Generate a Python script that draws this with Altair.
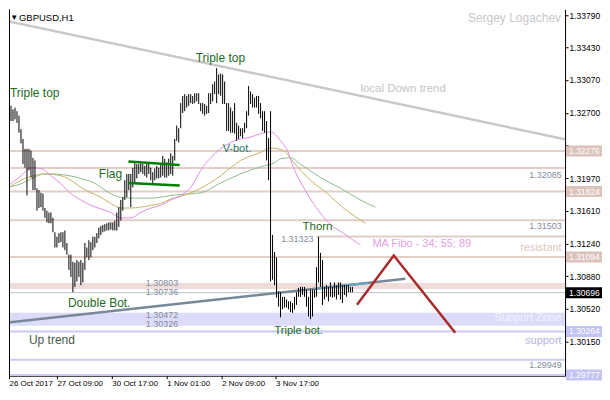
import altair as alt
import pandas as pd

# ---------------- bar data (high / low of each H1 bar) ----------------
highs_a = [1.3269, 1.3276, 1.3278, 1.3280, 1.3278, 1.3274, 1.3276, 1.3272, 1.3267, 1.3252,
           1.3241, 1.3230, 1.3230, 1.3230, 1.3228, 1.3220, 1.3217, 1.3186, 1.3184, 1.3181,
           1.3180, 1.3164, 1.3161, 1.3159, 1.3159, 1.3153, 1.3137, 1.3132, 1.3136, 1.3137,
           1.3137, 1.3139, 1.3125, 1.3112, 1.3112, 1.3104, 1.3103, 1.3106, 1.3104, 1.3106,
           1.3103, 1.3125, 1.3120, 1.3128, 1.3126, 1.3132, 1.3132, 1.3136]
lows_a = [1.3258, 1.3264, 1.3267, 1.3263, 1.3261, 1.3261, 1.3263, 1.3259, 1.3248, 1.3236,
          1.3213, 1.3209, 1.3178, 1.3206, 1.3198, 1.3184, 1.3184, 1.3161, 1.3164, 1.3165,
          1.3161, 1.3153, 1.3148, 1.3147, 1.3147, 1.3137, 1.3120, 1.3120, 1.3125, 1.3126,
          1.3120, 1.3117, 1.3112, 1.3095, 1.3087, 1.3070, 1.3076, 1.3082, 1.3087, 1.3078,
          1.3081, 1.3095, 1.3109, 1.3106, 1.3109, 1.3117, 1.3120, 1.3125]
highs_b = [1.3142, 1.3144, 1.3145, 1.3146, 1.3147, 1.3148, 1.3148, 1.3148, 1.3150, 1.3159,
           1.3165, 1.3173, 1.3176, 1.3195, 1.3202, 1.3202, 1.3202, 1.3209, 1.3215, 1.3213,
           1.3213, 1.3215, 1.3213, 1.3211, 1.3213, 1.3215, 1.3209, 1.3204, 1.3208, 1.3211,
           1.3209, 1.3213, 1.3222, 1.3219, 1.3215, 1.3219, 1.3225, 1.3222, 1.3241, 1.3256,
           1.3253, 1.3281, 1.3289, 1.3291, 1.3289]
lows_b = [1.3130, 1.3134, 1.3137, 1.3138, 1.3139, 1.3139, 1.3140, 1.3139, 1.3139, 1.3139,
          1.3143, 1.3150, 1.3161, 1.3173, 1.3176, 1.3184, 1.3165, 1.3187, 1.3191, 1.3197,
          1.3202, 1.3204, 1.3202, 1.3200, 1.3198, 1.3202, 1.3195, 1.3192, 1.3195, 1.3197,
          1.3197, 1.3198, 1.3200, 1.3198, 1.3198, 1.3200, 1.3202, 1.3200, 1.3217, 1.3239,
          1.3237, 1.3253, 1.3270, 1.3272, 1.3276]
highs_c = [1.3291, 1.3291, 1.3289, 1.3292, 1.3292, 1.3292, 1.3281, 1.3281, 1.3280, 1.3278,
           1.3292, 1.3292, 1.3302, 1.3305, 1.3320, 1.3313, 1.3314, 1.3313, 1.3305, 1.3281,
           1.3281, 1.3276, 1.3272, 1.3281, 1.3259, 1.3256, 1.3253, 1.3253, 1.3259, 1.3272,
           1.3300, 1.3294, 1.3291, 1.3287, 1.3289, 1.3289, 1.3281, 1.3272, 1.3272, 1.3261,
           1.3242, 1.3272, 1.3134, 1.3115, 1.3109, 1.3071, 1.3070, 1.3065, 1.3065, 1.3062,
           1.3060, 1.3060, 1.3058, 1.3065, 1.3070, 1.3075, 1.3076, 1.3076, 1.3076, 1.3073,
           1.3065, 1.3073, 1.3073, 1.3073, 1.3098, 1.3132, 1.3114, 1.3106, 1.3076, 1.3078,
           1.3076, 1.3081, 1.3076, 1.3081, 1.3078, 1.3081, 1.3081, 1.3078, 1.3078, 1.3078,
           1.3078, 1.3076, 1.3076]
lows_c = [1.3278, 1.3281, 1.3280, 1.3281, 1.3283, 1.3280, 1.3272, 1.3269, 1.3267, 1.3269,
          1.3270, 1.3280, 1.3283, 1.3291, 1.3281, 1.3291, 1.3289, 1.3280, 1.3280, 1.3250,
          1.3250, 1.3248, 1.3248, 1.3247, 1.3239, 1.3241, 1.3244, 1.3242, 1.3248, 1.3253,
          1.3267, 1.3280, 1.3276, 1.3276, 1.3276, 1.3269, 1.3264, 1.3250, 1.3248, 1.3217,
          1.3195, 1.3082, 1.3084, 1.3078, 1.3064, 1.3054, 1.3042, 1.3051, 1.3053, 1.3053,
          1.3051, 1.3048, 1.3047, 1.3051, 1.3056, 1.3065, 1.3065, 1.3067, 1.3065, 1.3054,
          1.3043, 1.3040, 1.3043, 1.3064, 1.3065, 1.3081, 1.3076, 1.3056, 1.3062, 1.3065,
          1.3060, 1.3065, 1.3064, 1.3065, 1.3062, 1.3067, 1.3062, 1.3058, 1.3067, 1.3065,
          1.3070, 1.3070, 1.3070]
highs = highs_a + highs_b + highs_c
lows = lows_a + lows_b + lows_c

# ---------------- moving averages (Fibo 34 / 55 / 89) ----------------
ma34_i = [-1, 4, 9, 14, 19, 24, 29, 34, 39, 44, 49, 54, 59, 64, 69, 74, 79, 84, 89, 94, 99, 104,
          109, 114, 119, 124, 129, 134, 139, 142.5, 145.5, 150.5, 155.5, 160.5, 165.5, 170.5, 175.5, 179]
ma34_v = [1.3184, 1.3191, 1.3200, 1.3209, 1.3208, 1.3200, 1.3191, 1.3180, 1.3173, 1.3167, 1.3163,
          1.3159, 1.3153, 1.3153, 1.3159, 1.3164, 1.3167, 1.3173, 1.3178, 1.3187, 1.3206, 1.3220,
          1.3230, 1.3237, 1.3241, 1.3243, 1.3247, 1.3249, 1.3239, 1.3228, 1.3209, 1.3187, 1.3169,
          1.3154, 1.3143, 1.3136, 1.3128, 1.3123]
ma55_i = [-1, 9, 15.5, 20.5, 29, 34, 39, 44, 49, 54, 59, 64, 69, 74, 79, 84, 89, 99, 109, 114, 119,
          124, 129, 134, 140.5, 145.5, 154, 162.5, 170.5, 181.5]
ma55_v = [1.3180, 1.3195, 1.3200, 1.3202, 1.3200, 1.3195, 1.3187, 1.3181, 1.3176, 1.3169, 1.3164,
          1.3164, 1.3165, 1.3167, 1.3169, 1.3174, 1.3177, 1.3186, 1.3200, 1.3209, 1.3217, 1.3222,
          1.3226, 1.3231, 1.3228, 1.3215, 1.3195, 1.3180, 1.3164, 1.3147]
ma89_i = [-1, 9, 15.5, 20.5, 25.5, 30.5, 35.5, 40.5, 46.5, 49, 54, 59, 64, 74, 79, 84, 89, 99, 109,
          119, 129, 136.5, 139, 144, 149, 159, 169, 179, 186.5]
ma89_v = [1.3186, 1.3191, 1.3198, 1.3202, 1.3202, 1.3201, 1.3199, 1.3196, 1.3191, 1.3187, 1.3180,
          1.3176, 1.3175, 1.3175, 1.3176, 1.3178, 1.3179, 1.3181, 1.3192, 1.3202, 1.3210, 1.3215,
          1.3219, 1.3220, 1.3213, 1.3198, 1.3186, 1.3173, 1.3165]

# ---------------- drawn objects ----------------
down_i, down_v = [-1, 284], [1.3374, 1.32395]
up_i, up_v = [-1, 201.5], [1.30355, 1.3085]
up_hi_i, up_hi_v = [157.5, 182.5], [1.30742, 1.30804]
zig_i, zig_v = [177.3, 195.7, 226.5], [1.3056, 1.3111, 1.3025]
flag_top_i, flag_top_v = [62.8, 88.5], [1.3216, 1.3212]
flag_bot_i, flag_bot_v = [62.8, 88.5], [1.3192, 1.3189]

pink_levels = [1.32276, 1.32085, 1.31824, 1.31503, 1.31094]
thorn_level, thorn_from = 1.31323, 157
pink_band = [1.30803, 1.30736]
blue_band = [1.30472, 1.30326]
blue_levels = [1.30264, 1.29949, 1.29777]
bid = 1.30696

box_prices = [1.32276, 1.31824, 1.31094, 1.30696, 1.30264, 1.29777]
box_colors = ["#dcc2bb", "#dcc2bb", "#dcc2bb", "#000000", "#c3c3f5", "#c3c3f5"]

y_ticks = [1.33790, 1.33430, 1.33070, 1.32700, 1.32340, 1.31970, 1.31610,
           1.31240, 1.30880, 1.30520, 1.30150]
y_hidden = [1.32340]          # label sits under the 1.32276 price box
x_tick_pos = [3, 27, 54.5, 82, 109.5, 136.5]
x_tick_lbl = ["26 Oct 2017", "27 Oct 09:00", "30 Oct 17:00", "1 Nov 01:00", "2 Nov 09:00", "3 Nov 17:00"]

GREEN = "#1e6b1e"
NUM = "#7f8ca0"
left_text = ["Triple top", "Triple top", "Flag", "V-bot.", "Double Bot.", "Thorn", "1.31323",
             "Triple bot.", "MA Fibo - 34; 55; 89", "local Down trend", "Up trend",
             "1.30803", "1.30736", "1.30472", "1.30326", "GBPUSD,H1", "\u25bc"]
left_i = [3.5, 96.5, 48, 110, 32.5, 150, 139.3, 136, 185, 179, 13, 71.5, 71.5, 71.5, 71.5, 8, 3.6]
left_v = [1.3292, 1.3331, 1.3202, 1.3230, 1.3058, 1.3143, 1.3129, 1.3027, 1.3124, 1.3297, 1.3017,
          1.3080, 1.3070, 1.3045, 1.3035, 1.3376, 1.3376]
left_c = [GREEN, GREEN, GREEN, "#2a7468", GREEN, GREEN, NUM, GREEN, "#e6a0e6", "#c4c4c4", "#4a5a4a",
          NUM, NUM, NUM, NUM, "#000000", "#000000"]
left_s = [12, 12, 12, 11, 12, 11.5, 9, 11, 11, 11.5, 12, 9, 9, 9, 9, 9.5, 8]

right_text = ["Sergey Logachev", "resistant", "Support Zone", "support", "1.29949", "1.32085", "1.31503"]
right_i = [279.5, 279.8, 279.5, 279.8, 279.8, 279.8, 279.8]
right_v = [1.3376, 1.3119, 1.3041, 1.3016, 1.2989, 1.3201, 1.3144]
right_c = ["#c8c8c8", "#dfc6bf", "#f2f2ff", "#b4b4ee", NUM, NUM, NUM]
right_s = [12, 11, 11, 11, 9, 9, 9]

# ---------------- scales & axes ----------------
X_LO, X_HI = 3, 281.5
W, H = int(round((X_HI - X_LO) * 2)), 367
Y_LO, Y_HI = 1.29770, 1.33856
FONT = "Liberation Sans"
xs = alt.Scale(domain=[X_LO, X_HI], nice=False, zero=False)
ys = alt.Scale(domain=[Y_LO, Y_HI], nice=False, zero=False)
BOX_HALF = 5.5 * (Y_HI - Y_LO) / H   # half height of a price box (5.5 px)

label_expr = " : ".join(
    f"datum.value == {p} ? '{t}'" for p, t in zip(x_tick_pos, x_tick_lbl)) + " : ''"
y_label_expr = " || ".join(f"abs(datum.value - {v}) < 0.000001" for v in y_hidden) + \
    " ? '' : format(datum.value, '.5f')"

x_axis = alt.Axis(values=x_tick_pos, labelExpr=label_expr, grid=False, orient="bottom",
                  domainColor="black", tickColor="black", tickSize=3, labelPadding=1,
                  labelAlign="left", labelBaseline="top", labelFont=FONT, labelFontSize=8,
                  labelColor="black", title=None, labelOverlap=False)
y_axis = alt.Axis(values=y_ticks, labelExpr=y_label_expr, orient="right", grid=False,
                  domainColor="black", tickColor="black", tickSize=3, labelPadding=1,
                  labelFont=FONT, labelFontSize=8.5, labelColor="black", title=None,
                  labelOverlap=False)


def X(f="i:Q"):
    return alt.X(f, scale=xs, axis=x_axis)


def Y(f="v:Q"):
    return alt.Y(f, scale=ys, axis=y_axis)


def line_df(ii, vv):
    return pd.DataFrame({"i": ii, "v": vv})


bars = pd.DataFrame({"i": list(range(len(highs))), "hi": highs, "lo": lows})

layers = []

# bands
bands = pd.DataFrame({"a": [pink_band[0], blue_band[0]], "b": [pink_band[1], blue_band[1]],
                      "c": ["#eddcd7", "#dcdcfa"]})
layers.append(alt.Chart(bands).mark_rect().encode(
    x=alt.value(0), x2=alt.value(W), y=Y("a:Q"), y2="b:Q", color=alt.Color("c:N", scale=None)))

# horizontal levels
layers.append(alt.Chart(pd.DataFrame({"v": pink_levels})).mark_rule(
    color="#e2cdc7", strokeWidth=2).encode(y=Y()))
layers.append(alt.Chart(pd.DataFrame({"v": [thorn_level], "a": [thorn_from], "b": [X_HI]})).mark_rule(
    color="#e2cdc7", strokeWidth=2, clip=True).encode(x=X("a:Q"), x2="b:Q", y=Y()))
layers.append(alt.Chart(pd.DataFrame({"v": blue_levels})).mark_rule(
    color="#cacaf4", strokeWidth=2).encode(y=Y()))
layers.append(alt.Chart(pd.DataFrame({"v": [bid]})).mark_rule(
    color="#c0c0c0", strokeWidth=1).encode(y=Y()))

# down trend line
layers.append(alt.Chart(line_df(down_i, down_v)).mark_line(
    color="#c8c8c8", strokeWidth=2.5, clip=True).encode(x=X(), y=Y()))

# moving averages
for ii, vv, col in [(ma89_i, ma89_v, "#8fbc8f"), (ma55_i, ma55_v, "#c2b466"), (ma34_i, ma34_v, "#e08ee0")]:
    layers.append(alt.Chart(line_df(ii, vv)).mark_line(
        color=col, strokeWidth=1, interpolate="monotone", clip=True).encode(x=X(), y=Y()))

# up trend line
layers.append(alt.Chart(line_df(up_i, up_v)).mark_line(
    color="#778899", strokeWidth=2.5, clip=True).encode(x=X(), y=Y()))
layers.append(alt.Chart(line_df(up_hi_i, up_hi_v)).mark_line(
    color="#63a6c2", strokeWidth=2, clip=True).encode(x=X(), y=Y()))

# bars
layers.append(alt.Chart(bars).mark_rule(color="black", strokeWidth=1, clip=True).encode(
    x=X(), y=Y("hi:Q"), y2="lo:Q"))

# flag and zigzag
for ii, vv in [(flag_top_i, flag_top_v), (flag_bot_i, flag_bot_v)]:
    layers.append(alt.Chart(line_df(ii, vv)).mark_line(
        color="#008000", strokeWidth=2.5, clip=True).encode(x=X(), y=Y()))
layers.append(alt.Chart(line_df(zig_i, zig_v)).mark_line(
    color="#a82a2a", strokeWidth=2.5, clip=True).encode(x=X(), y=Y()))

# left frame line
layers.append(alt.Chart(pd.DataFrame({"v": [0]})).mark_rule(color="black", strokeWidth=1).encode(
    x=alt.value(0.5), y=alt.value(0), y2=alt.value(H)))

# annotations
ldf = pd.DataFrame({"t": left_text, "i": left_i, "v": left_v, "c": left_c, "s": left_s})
layers.append(alt.Chart(ldf).mark_text(align="left", baseline="middle", font=FONT).encode(
    x=X(), y=Y(), text="t:N", color=alt.Color("c:N", scale=None), size=alt.Size("s:Q", scale=None)))
rdf = pd.DataFrame({"t": right_text, "i": right_i, "v": right_v, "c": right_c, "s": right_s})
layers.append(alt.Chart(rdf).mark_text(align="right", baseline="middle", font=FONT).encode(
    x=X(), y=Y(), text="t:N", color=alt.Color("c:N", scale=None), size=alt.Size("s:Q", scale=None)))

# price boxes on the right axis
bdf = pd.DataFrame({"v": box_prices, "c": box_colors, "t": [f"{p:.5f}" for p in box_prices]})
bdf["v0"] = bdf["v"] - BOX_HALF
bdf["v1"] = bdf["v"] + BOX_HALF
layers.append(alt.Chart(bdf).mark_rect().encode(
    x=alt.value(W + 1), x2=alt.value(W + 37), y=Y("v0:Q"), y2="v1:Q",
    color=alt.Color("c:N", scale=None)))
layers.append(alt.Chart(bdf).mark_text(align="left", baseline="middle", font=FONT, fontSize=8.5,
                                       color="white").encode(
    x=alt.value(W + 4), y=Y(), text="t:N"))

chart = alt.layer(*layers).properties(
    width=W, height=H, padding=0, background="white"
).configure_view(stroke=None)

chart.save("out.html", embed_options={"renderer": "svg", "actions": False})
